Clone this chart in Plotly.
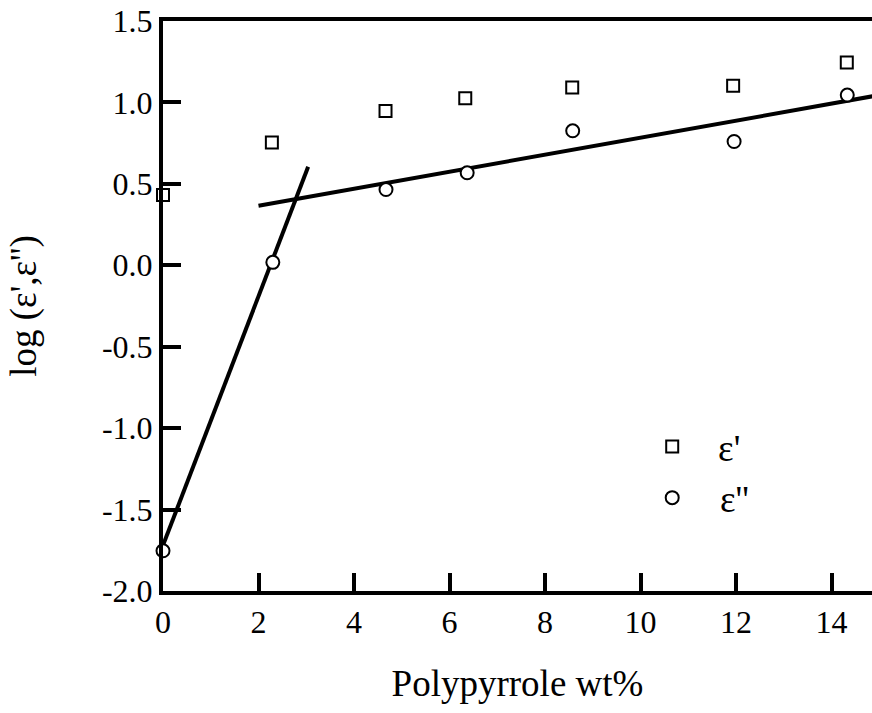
import plotly.graph_objects as go

# ---- data ----
wt_eps1 = [0.0, 2.28, 4.66, 6.33, 8.57, 11.94, 14.32]
log_eps1 = [0.431, 0.754, 0.948, 1.026, 1.092, 1.102, 1.245]

wt_eps2 = [0.0, 2.30, 4.67, 6.37, 8.58, 11.96, 14.33]
log_eps2 = [-1.753, 0.018, 0.465, 0.568, 0.826, 0.760, 1.045]

fit_low_x = [0.0, 3.04]
fit_low_y = [-1.72, 0.605]
fit_high_x = [2.0, 15.0]
fit_high_y = [0.365, 1.045]

x_ticks = [0, 2, 4, 6, 8, 10, 12, 14]
x_ticklabels = ["0", "2", "4", "6", "8", "10", "12", "14"]
y_ticks = [-2.0, -1.5, -1.0, -0.5, 0.0, 0.5, 1.0, 1.5]
y_ticklabels = ["-2.0", "-1.5", "-1.0", "-0.5", "0.0", "0.5", "1.0", "1.5"]

FONT = "Liberation Serif"
NB = "\u00a0"
THIN = "\u2009"

fig = go.Figure()

fig.add_trace(go.Scatter(
    x=fit_low_x, y=fit_low_y, mode="lines",
    line=dict(color="black", width=4), showlegend=False, hoverinfo="skip"))
fig.add_trace(go.Scatter(
    x=fit_high_x, y=fit_high_y, mode="lines",
    line=dict(color="black", width=4), showlegend=False, hoverinfo="skip"))

fig.add_trace(go.Scatter(
    x=wt_eps1, y=log_eps1, mode="markers", name=NB * 2 + THIN + "ε'",
    legendgroup="a",
    marker=dict(symbol="square", size=12, color="white",
                line=dict(color="black", width=2)),
    cliponaxis=False))
fig.add_trace(go.Scatter(
    x=wt_eps2, y=log_eps2, mode="markers", name=NB * 3 + "ε''",
    legendgroup="b",
    marker=dict(symbol="circle", size=13, color="white",
                line=dict(color="black", width=2)),
    cliponaxis=False))

fig.update_layout(
    width=872, height=713,
    margin=dict(l=163, r=0, t=21, b=122),
    paper_bgcolor="white", plot_bgcolor="white",
    font=dict(family=FONT, size=32, color="black"),
    showlegend=True,
    legend=dict(x=0.69, y=0.307, xanchor="left", yanchor="top",
                bgcolor="rgba(0,0,0,0)", borderwidth=0,
                font=dict(family=FONT, size=37),
                tracegroupgap=0, traceorder="grouped"),
    xaxis=dict(
        range=[0, 14.848], showline=True, linewidth=4, linecolor="black",
        mirror=True, ticks="inside", ticklen=18, tickwidth=4,
        tickcolor="black", tickvals=x_ticks, ticktext=x_ticklabels,
        tickfont=dict(family=FONT, size=32), showgrid=False, zeroline=False,
        title=dict(text="Polypyrrole wt%", font=dict(family=FONT, size=37),
                   standoff=32)),
    yaxis=dict(
        range=[-2.0, 1.5], showline=True, linewidth=4, linecolor="black",
        mirror=False, ticks="inside", ticklen=18, tickwidth=4,
        tickcolor="black", tickvals=y_ticks, ticktext=y_ticklabels,
        tickfont=dict(family=FONT, size=32), showgrid=False, zeroline=False,
        title=dict(text="log (ε',ε'')", font=dict(family=FONT, size=37),
                   standoff=55)),
)

fig.write_html(
    "out.html",
    config={"displayModeBar": False},
    post_script="document.body.style.margin='0';"
                "document.body.style.overflow='hidden';")
